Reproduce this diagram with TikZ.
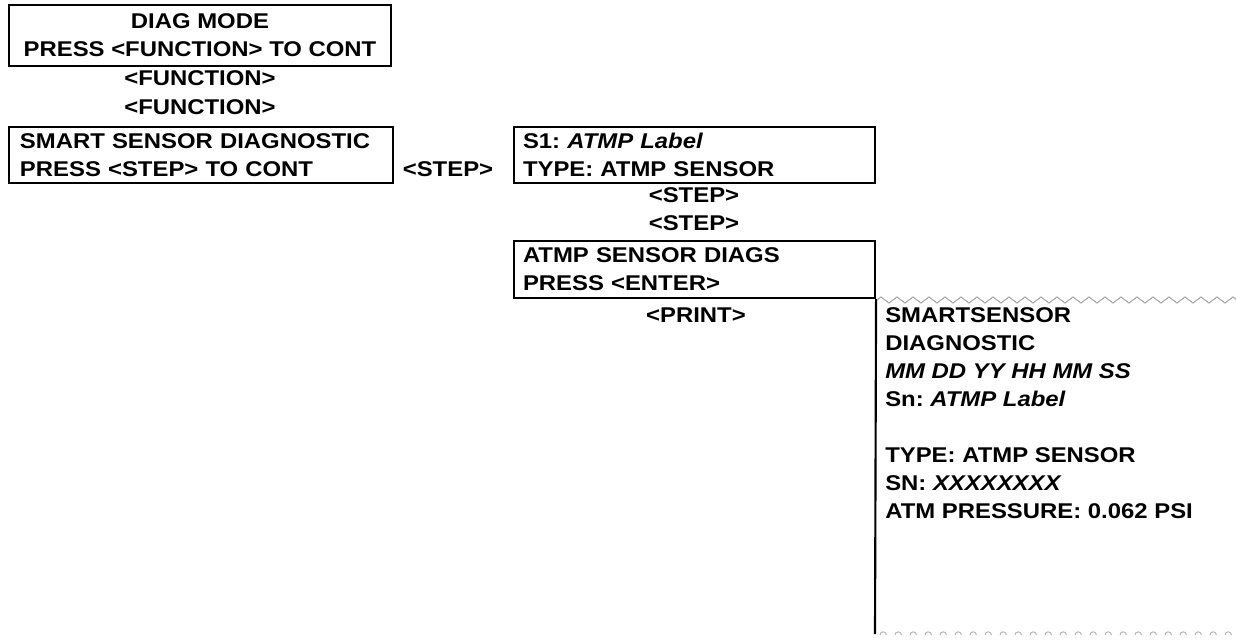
\documentclass[tikz,border=0pt]{standalone}
\usepackage{fontspec}
\setmainfont[FakeStretch=1.12]{Liberation Sans}
\begin{document}
\begin{tikzpicture}[x=0.75pt,y=-0.75pt,
  txt/.style={font=\fontsize{16pt}{21pt}\selectfont\bfseries, inner sep=0pt},
  box/.style={txt, draw, line width=1.6pt, inner ysep=0pt},
  lbl/.style={txt, anchor=base},
  zz/.style={draw=black!35, line width=0.8pt}
]
\useasboundingbox (0,0) rectangle (1236,640);

% box 1
\node[box, align=center, minimum width=286.5pt, minimum height=45.75pt] (diag) at (200,35.5)
  {DIAG MODE\\PRESS <FUNCTION> TO CONT};
\node[lbl] (f1) at (200,85.5) {<FUNCTION>};
\node[lbl] (f2) at (200,114.5) {<FUNCTION>};

% box 2
\node[box, align=left, inner xsep=8.25pt, text width=271.5pt, minimum height=42pt] (ssd) at (201,155)
  {SMART SENSOR DIAGNOSTIC\\PRESS <STEP> TO CONT};
\node[lbl] (st0) at (448,176) {<STEP>};

% box 3
\node[box, align=left, inner xsep=6.75pt, text width=257.25pt, minimum height=42pt] (s1) at (694.5,155)
  {S1:~\textit{ATMP Label}\\TYPE: ATMP SENSOR\\[-4pt]};
\node[lbl] (st1) at (694,202) {<STEP>};
\node[lbl] (st2) at (694,230) {<STEP>};

% box 4
\node[box, align=left, inner xsep=6.75pt, text width=257.25pt, minimum height=42.75pt] (atd) at (694.5,269.5)
  {ATMP SENSOR DIAGS\\PRESS <ENTER>};
\node[lbl] (pr) at (696,322) {<PRINT>};

% printout
\coordinate (pbot) at (875,634);
\draw[line width=1.6pt] (atd.south east) -- (pbot);
\draw[zz] (877,300) \foreach \i in {0,...,22} { -- ++(4,-3) -- ++(8,6) -- ++(4,-3) };
\foreach \i in {0,...,24} {
  \draw[draw=black!30, line width=0.7pt] (880+15*\i,635) arc[start angle=180, end angle=0, radius=2.4pt];
}
\node[txt, align=left, anchor=north west] (ticket) at (885,307)
  {SMARTSENSOR\\DIAGNOSTIC\\\textit{MM DD YY HH MM SS}\\Sn:~\textit{ATMP Label}\\[21pt]TYPE: ATMP SENSOR\\SN:~\textit{XXXXXXXX}\\ATM PRESSURE: 0.062 PSI};
\end{tikzpicture}
\end{document}
